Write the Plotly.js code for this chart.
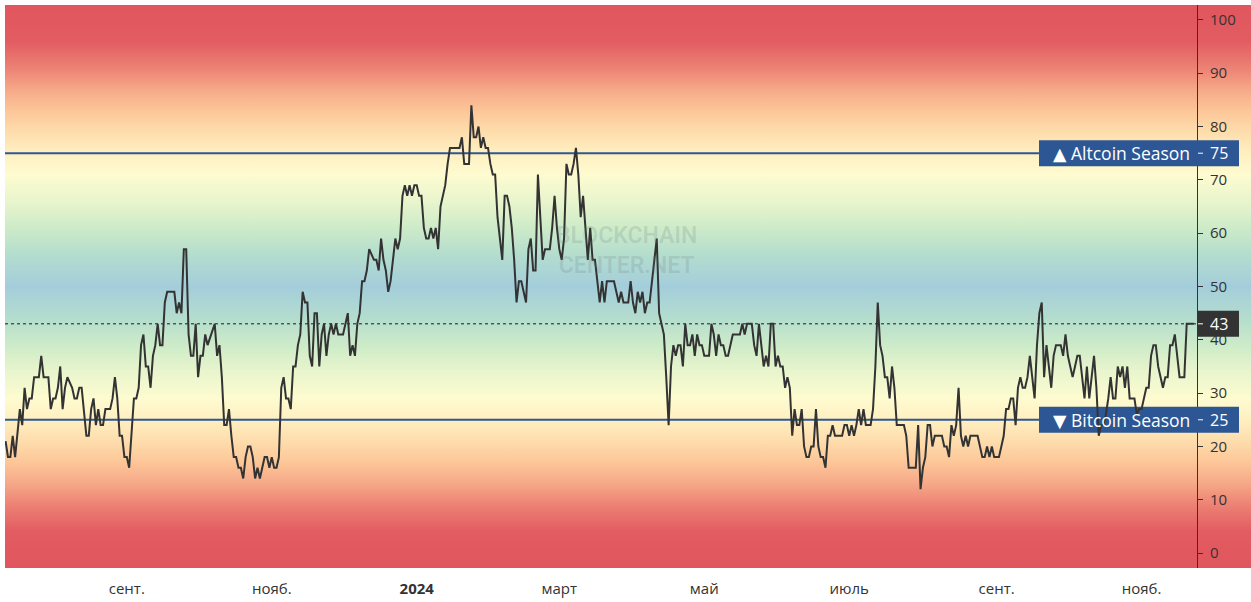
<!DOCTYPE html>
<html><head><meta charset="utf-8">
<script src="https://cdn.plot.ly/plotly-3.0.1.min.js"></script>
<style>html,body{margin:0;padding:0;background:#fff;}#chart{width:1251px;height:602px;}</style>
</head><body><div id="chart"></div>
<script>
// daily Altcoin Season Index readings, days counted from startDate
const startDate = '2023-07-12';
const dayOffset = [0,1,2,3,4,6,7,8,9,10,11,12,14,15,16,18,19,20,21,22,
23,24,25,26,28,29,30,31,32,33,34,35,36,37,38,39,40,41,42,44,
45,46,47,48,49,50,51,52,53,54,55,56,57,58,59,60,61,62,63,64,
65,66,67,68,71,72,73,74,75,76,77,78,79,80,81,82,83,84,85,88,
89,90,91,92,93,94,95,96,97,98,99,100,101,102,103,104,105,106,107,108,
109,110,111,112,113,114,115,116,117,118,119,120,121,122,123,124,125,126,127,128,
129,130,131,132,133,134,135,136,137,138,139,140,142,144,145,146,147,148,149,150,
151,152,153,155,156,157,158,159,160,161,162,163,164,165,166,167,168,169,170,171,
172,173,174,175,176,177,178,179,180,181,182,183,184,185,186,187,191,192,193,195,
196,197,198,199,200,201,202,203,204,205,206,207,209,210,211,212,213,214,215,216,
217,219,220,221,222,223,224,225,226,227,229,230,231,232,233,234,235,236,237,238,
239,240,241,242,243,244,245,246,247,248,249,250,251,252,253,256,258,259,260,262,
263,264,265,266,267,268,269,270,271,272,274,275,276,277,278,279,280,281,282,283,
284,285,286,287,288,289,290,291,292,293,294,296,297,298,299,300,301,302,303,304,
306,309,310,311,312,314,315,316,317,318,319,320,321,322,323,324,325,326,327,328,
329,330,331,332,333,334,335,336,337,338,339,340,341,342,343,344,345,346,347,348,
349,352,353,354,355,356,357,358,359,360,361,362,364,365,366,367,368,369,370,371,
372,373,374,375,378,379,380,383,384,385,386,387,388,389,390,391,394,395,396,397,
398,399,400,401,402,403,404,405,406,409,410,411,412,413,414,415,416,418,419,420,
421,422,423,424,425,426,427,428,429,430,431,432,433,434,435,436,437,438,439,440,
441,442,444,445,446,447,448,449,450,451,452,453,454,455,456,457,458,459,460,461,
462,463,464,465,466,467,468,469,470,471,472,473,475,476,477,478,479,480,481,482,
483,484,485,486,487,488,489,490,491,492,493,494,496,497,500];
const altIndex = [21,18,18,22,18,27,24,31,27,29,29,33,33,37,33,33,27,29,29,31,
35,27,31,33,31,29,29,31,31,27,22,22,27,29,24,27,24,24,27,27,
29,33,29,22,22,18,18,16,22,29,29,31,39,41,35,35,31,37,39,43,
39,39,47,49,49,45,47,45,57,57,41,37,37,43,33,37,37,41,39,43,
37,39,33,24,24,27,22,18,18,16,16,14,18,20,20,18,14,16,14,16,
18,18,16,18,16,16,18,31,33,29,29,27,35,35,39,41,49,47,47,37,
35,45,45,35,41,43,37,41,43,41,43,41,41,45,37,39,37,43,45,51,
51,53,57,55,55,53,59,55,53,49,51,55,59,57,59,67,69,67,69,67,
69,69,67,67,61,59,59,61,59,61,57,65,67,69,73,76,76,78,73,73,
84,78,78,80,76,78,76,76,73,71,71,63,55,67,67,65,61,55,47,51,
51,47,57,59,53,53,71,63,55,57,57,61,67,61,57,55,59,73,71,71,
73,76,71,63,67,61,55,61,55,55,51,47,51,47,51,51,47,49,47,47,
51,47,45,49,47,49,45,47,47,51,59,45,43,41,33,24,35,39,37,39,
39,35,43,39,39,41,37,41,39,39,37,37,43,41,37,41,39,39,37,37,
41,41,43,41,43,43,39,37,43,39,35,37,35,43,43,35,37,35,35,31,
33,31,22,27,24,24,27,20,18,18,20,20,27,20,18,18,16,22,22,24,
22,22,24,24,22,24,22,24,27,24,27,24,24,27,35,47,39,37,33,33,
29,35,31,24,24,22,16,16,24,12,16,18,24,24,20,22,22,20,20,18,
24,22,24,31,22,20,22,20,22,22,20,18,18,20,18,20,18,18,20,22,
27,27,29,29,24,31,33,31,31,33,37,33,29,39,45,47,33,39,35,31,
37,39,39,37,41,37,35,33,35,37,37,33,29,35,29,33,37,31,22,24,
24,26,29,33,29,29,35,33,35,31,35,29,29,26,27,27,29,31,31,37,
39,39,35,33,31,33,33,39,39,41,37,33,33,43,43];
const monthTicks = ['2023-09-01','2023-11-01','2024-01-01','2024-03-01','2024-05-01','2024-07-01','2024-09-01','2024-11-01'];
const monthLabels = ['сент.','нояб.','<b>2024</b>','март','май','июль','сент.','нояб.'];
const yTicks = [0,10,20,30,40,50,60,70,80,90,100];
const altSeasonLevel = 75, btcSeasonLevel = 25;
const altLabel = '▲ Altcoin Season', btcLabel = '▼ Bitcoin Season';
const currentValue = altIndex[altIndex.length - 1];

// ---------- build ----------
const [sy, sm, sd] = startDate.split('-').map(Number);
const t0 = Date.UTC(sy, sm - 1, sd);
const dates = dayOffset.map(d => new Date(t0 + d * 86400000).toISOString().slice(0, 10));

const W = 1251, H = 602, ML = 5, MR = 54, MT = 5, MB = 34;
const plotW = W - ML - MR;
const px = x => (x - ML) / plotW;
const Y0 = -2.8, Y1 = 102.8;
const unitsPerPx = (Y1 - Y0) / (H - MT - MB);
const halfBox = 13 * unitsPerPx;

// background gradient (value -> colour)
const stops = [
  [102.8, '#E0565E'], [96, '#E25C61'], [91, '#EC8174'], [87, '#F6A888'], [83, '#FCC698'],
  [79, '#FEDDAD'], [75, '#FFEFC0'], [71, '#FEFBD0'], [66, '#E9F5CD'], [61, '#CDEBC8'],
  [56, '#B4DDCE'], [50, '#A4CDDC'], [44, '#B4DDCE'], [39, '#CDEBC8'], [34, '#E9F5CD'],
  [29, '#FEFBD0'], [25, '#FFEFC0'], [21, '#FEDDAD'], [17, '#FCC698'], [13, '#F6A888'],
  [9, '#EC8174'], [4, '#E25C61'], [-2.8, '#E0565E']
];
const stopXml = stops.map(s => `<stop offset="${((Y1 - s[0]) / (Y1 - Y0)).toFixed(4)}" stop-color="${s[1]}"/>`).join('');
const svg = `<svg xmlns="http://www.w3.org/2000/svg" width="10" height="100" viewBox="0 0 10 100" preserveAspectRatio="none"><defs><linearGradient id="g" x1="0" y1="0" x2="0" y2="1">${stopXml}</linearGradient></defs><rect width="10" height="100" fill="url(#g)"/></svg>`;
const gradSrc = 'data:image/svg+xml;charset=utf-8,' + encodeURIComponent(svg);

const FONT = 'Open Sans, DejaVu Sans, sans-serif';
const blue = '#2C5794';

const trace = {
  x: dates, y: altIndex, type: 'scatter', mode: 'lines',
  line: {color: '#333333', width: 2}, hoverinfo: 'skip', showlegend: false
};

function seasonShapes(level) {
  return [
    {type: 'line', xref: 'paper', yref: 'y', x0: 0, x1: 1, y0: level, y1: level,
     line: {color: blue, width: 2}, layer: 'below'},
    {type: 'rect', xref: 'paper', yref: 'y', x0: px(1039), x1: 1, y0: level - halfBox, y1: level + halfBox,
     fillcolor: blue, line: {width: 0}, layer: 'below'},
    {type: 'rect', xref: 'paper', yref: 'y', x0: 1, x1: px(1239), y0: level - halfBox, y1: level + halfBox,
     fillcolor: blue, line: {width: 0}, layer: 'above'},
    {type: 'line', xref: 'paper', yref: 'y', x0: px(1198), x1: px(1203), y0: level, y1: level,
     line: {color: '#ffffff', width: 1}, layer: 'above'}
  ];
}

const shapes = [
  ...seasonShapes(altSeasonLevel),
  ...seasonShapes(btcSeasonLevel),
  {type: 'line', xref: 'paper', yref: 'y', x0: 0, x1: 1, y0: currentValue, y1: currentValue,
   line: {color: '#1a1a1a', width: 1, dash: 'dot'}, layer: 'below'},
  {type: 'rect', xref: 'paper', yref: 'y', x0: 1, x1: px(1239), y0: currentValue - halfBox, y1: currentValue + halfBox,
   fillcolor: '#333333', line: {width: 0}, layer: 'above'},
  {type: 'line', xref: 'paper', yref: 'y', x0: px(1198), x1: px(1203), y0: currentValue, y1: currentValue,
   line: {color: '#ffffff', width: 1}, layer: 'above'}
];

function label(text, xPix, anchor, y, size) {
  return {text, xref: 'paper', yref: 'y', x: px(xPix), y, xanchor: anchor, yanchor: 'middle',
          showarrow: false, font: {family: FONT, size: size, color: '#ffffff'}};
}
const annotations = [
  label(altLabel, 1192, 'right', altSeasonLevel, 17.5),
  label(String(altSeasonLevel), 1208, 'left', altSeasonLevel, 16),
  label(btcLabel, 1192, 'right', btcSeasonLevel, 17.5),
  label(String(btcSeasonLevel), 1208, 'left', btcSeasonLevel, 16),
  label(String(currentValue), 1208, 'left', currentValue, 16),
  {text: 'BLOCKCHAIN<br>CENTER.NET', xref: 'paper', yref: 'y', x: px(626), y: 56.8,
   xanchor: 'center', yanchor: 'middle', showarrow: false,
   font: {family: 'Roboto, sans-serif', size: 23, weight: 600, color: 'rgba(100,120,122,0.19)'}}
];

const layout = {
  width: W, height: H,
  margin: {l: ML, r: MR, t: MT, b: MB, pad: 0},
  paper_bgcolor: '#ffffff', plot_bgcolor: 'rgba(0,0,0,0)',
  showlegend: false,
  xaxis: {
    type: 'date', range: ['2023-07-11 18:00', '2024-11-24 08:00'],
    tickvals: monthTicks, ticktext: monthLabels, tickmode: 'array',
    showgrid: false, zeroline: false, showline: false, ticks: '',
    tickfont: {family: FONT, size: 15, color: '#333333'}, ticklabelstandoff: 10,
    fixedrange: true
  },
  yaxis: {
    side: 'right', range: [Y0, Y1], tickvals: yTicks, tickmode: 'array',
    showgrid: false, zeroline: false, showline: true, linecolor: '#333333', linewidth: 1,
    ticks: 'outside', ticklen: 5, tickcolor: '#333333', tickwidth: 1,
    tickfont: {family: FONT, size: 15, color: '#333333'}, ticklabelstandoff: 4,
    fixedrange: true
  },
  images: [{source: gradSrc, xref: 'paper', yref: 'paper', x: 0, y: 1,
            sizex: (W - ML) / plotW, sizey: 1, sizing: 'stretch',
            xanchor: 'left', yanchor: 'top', layer: 'below'}],
  shapes, annotations
};

Plotly.newPlot('chart', [trace], layout, {displayModeBar: false, staticPlot: true});
</script>
</body></html>
